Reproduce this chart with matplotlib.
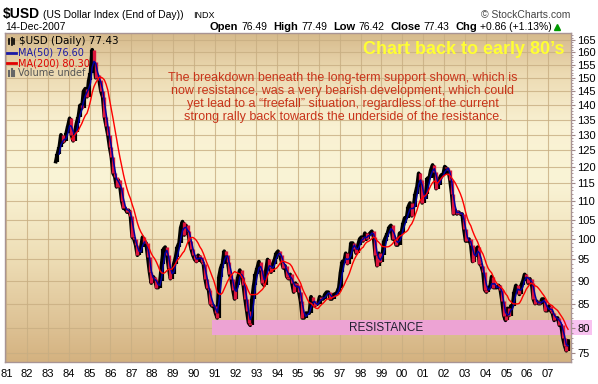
import numpy as np
import pandas as pd
import matplotlib
matplotlib.use('Agg')
import matplotlib.pyplot as plt
from matplotlib.colors import LinearSegmentedColormap
from matplotlib.patches import Rectangle
from matplotlib.lines import Line2D
from matplotlib.ticker import FixedLocator, FixedFormatter, NullFormatter

plt.rcParams['font.family'] = ['Liberation Sans', 'DejaVu Sans']

# monthly closes of $USD, May 1983 .. Dec 2007
start_year, start_month = 1983, 5
c1983 = [121.5, 124.0, 126.0, 130.0, 127.5, 128.0, 130.5, 133.0]
c1984 = [135.5, 130.0, 128.0, 131.0, 134.0, 136.0, 140.0, 139.0, 145.0, 146.0, 143.0, 149.0]
c1985 = [152.0, 161.0, 156.0, 150.0, 151.0, 149.0, 145.0, 143.0, 136.0, 133.0, 130.0, 126.0]
c1986 = [123.0, 118.0, 117.0, 114.0, 116.0, 114.0, 110.0, 108.0, 108.0, 107.0, 107.5, 106.0]
c1987 = [100.5, 100.0, 98.5, 96.0, 96.5, 98.0, 100.5, 99.0, 99.0, 95.5, 92.0, 89.5]
c1988 = [91.0, 90.5, 88.5, 88.5, 90.0, 94.0, 97.5, 98.0, 96.0, 93.0, 90.5, 91.5]
c1989 = [94.0, 95.5, 98.0, 99.0, 103.0, 104.5, 101.0, 103.5, 102.0, 99.5, 97.5, 96.0]
c1990 = [95.0, 94.5, 96.0, 95.5, 94.5, 94.0, 90.5, 88.5, 88.0, 85.0, 84.5, 84.5]
c1991 = [83.0, 82.0, 91.0, 93.0, 94.0, 97.0, 96.0, 94.5, 91.5, 90.5, 88.0, 86.0]
c1992 = [89.0, 91.0, 92.5, 91.0, 89.0, 86.0, 83.5, 81.0, 80.5, 86.0, 89.0, 91.5]
c1993 = [93.0, 94.5, 92.5, 89.5, 89.0, 92.5, 95.0, 93.0, 92.0, 94.0, 95.0, 96.5]
c1994 = [97.0, 96.0, 94.5, 93.0, 93.5, 91.0, 90.5, 91.5, 89.5, 87.5, 89.5, 89.0]
c1995 = [87.5, 85.5, 82.0, 82.0, 83.0, 83.0, 83.0, 86.5, 85.5, 84.5, 85.0, 85.0]
c1996 = [86.5, 86.0, 86.0, 87.0, 87.5, 87.5, 86.0, 86.0, 87.0, 87.0, 87.5, 88.5]
c1997 = [92.0, 94.5, 94.5, 96.5, 94.0, 95.0, 99.0, 99.0, 97.5, 96.5, 98.5, 100.0]
c1998 = [100.5, 99.5, 101.5, 100.0, 101.0, 101.5, 102.0, 100.5, 96.0, 93.5, 96.5, 94.5]
c1999 = [96.0, 99.5, 100.5, 101.5, 103.0, 103.5, 100.0, 100.5, 98.5, 98.5, 101.5, 101.5]
c2000 = [104.0, 105.5, 105.5, 108.5, 109.5, 106.0, 108.5, 112.0, 114.0, 118.0, 116.0, 109.5]
c2001 = [110.5, 112.0, 116.5, 116.5, 119.0, 120.5, 118.5, 113.5, 114.5, 116.5, 117.5, 117.5]
c2002 = [120.0, 119.5, 119.0, 116.0, 112.0, 106.5, 107.5, 106.5, 107.0, 106.5, 106.5, 102.5]
c2003 = [99.5, 99.5, 100.0, 98.5, 94.5, 95.5, 97.5, 98.0, 94.0, 93.5, 92.0, 88.0]
c2004 = [87.5, 88.5, 88.5, 91.0, 88.5, 88.5, 88.5, 89.0, 88.0, 85.5, 82.5, 81.5]
c2005 = [84.0, 82.5, 84.5, 84.5, 87.5, 89.0, 88.0, 87.0, 89.0, 90.0, 91.5, 91.0]
c2006 = [89.5, 90.5, 89.5, 86.0, 85.0, 85.5, 85.0, 85.0, 86.0, 86.0, 83.5, 83.5]
c2007 = [84.5, 83.5, 83.0, 81.5, 82.0, 82.0, 80.5, 80.5, 78.0, 76.5, 75.5, 77.4]

closes = (c1983 + c1984 + c1985 + c1986 + c1987 + c1988 + c1989 + c1990 + c1991
          + c1992 + c1993 + c1994 + c1995 + c1996 + c1997 + c1998 + c1999 + c2000
          + c2001 + c2002 + c2003 + c2004 + c2005 + c2006 + c2007)

years = list(range(1981, 2008))
year_labels = [f"{y % 100:02d}" for y in years]
y_ticks = list(range(75, 170, 5))

res_lo, res_hi = 78.5, 81.5
res_start = 1990.88

note = ("The breakdown beneath the long-term support shown, which is\n"
        "now resistance, was a very bearish development, which could\n"
        "yet lead to a \u201cfreefall\u201d situation, regardless of the current\n"
        "strong rally back towards the underside of the resistance.")

W, H = 598, 384
fig = plt.figure(figsize=(W / 100, H / 100), dpi=100)
fig.patch.set_facecolor('white')


def px(x, y):
    return x / W, 1 - y / H


pos = [5 / W, (H - 362) / H, (571 - 5) / W, (362 - 33) / H]

# background gradient
bg = fig.add_axes(pos, zorder=0)
bg_cmap = LinearSegmentedColormap.from_list('bg', [
    (0.0, (212/255, 178/255, 128/255)),
    (0.12, (222/255, 195/255, 150/255)),
    (0.32, (238/255, 222/255, 182/255)),
    (0.55, (250/255, 244/255, 214/255)),
    (0.72, (249/255, 241/255, 210/255)),
    (0.88, (236/255, 218/255, 178/255)),
    (1.0, (214/255, 186/255, 140/255)),
])
bg.imshow(np.linspace(0, 1, 256).reshape(-1, 1), aspect='auto', cmap=bg_cmap,
          origin='lower', extent=[0, 1, 0, 1])
bg.set_axis_off()

ax = fig.add_axes(pos, zorder=1)
ax.set_facecolor('none')

s = pd.Series(closes, dtype=float)
t = start_year + (start_month - 1 + np.arange(len(s)) + 0.5) / 12
ma50 = s.rolling(3).mean()
ma200 = s.rolling(10).mean()

# resistance band
ax.add_patch(Rectangle((res_start, res_lo), 2010 - res_start, res_hi - res_lo,
                       facecolor='#EDA3D4', edgecolor='none', zorder=1))

ax.plot(t, s, color='black', lw=2.6, zorder=2)
prev = s.shift(1)
up = (s >= prev).values
lo = np.minimum(prev, s).values
hi = np.maximum(prev, s).values
ax.vlines(t[1:][up[1:]], lo[1:][up[1:]], hi[1:][up[1:]], colors='black', lw=3, zorder=3)
ax.vlines(t[1:][~up[1:]], lo[1:][~up[1:]], hi[1:][~up[1:]], colors='#DC143C', lw=2.4, zorder=3)
ax.plot(t, ma50, color='#0000A0', lw=1.1, zorder=4)
ax.plot(t, ma200, color='#FF0000', lw=1.0, zorder=5)

ax.set_yscale('log')
ax.set_xlim(1980.94, 2008.1)
ax.set_ylim(73.4, 167.9)

ax.xaxis.set_major_locator(FixedLocator(years))
ax.set_xticklabels(year_labels)
ax.yaxis.set_major_locator(FixedLocator(y_ticks))
ax.yaxis.set_major_formatter(FixedFormatter([str(v) for v in y_ticks]))
ax.yaxis.set_minor_locator(FixedLocator(list(range(74, 168))))
ax.yaxis.set_minor_formatter(NullFormatter())
ax.yaxis.tick_right()
ax.tick_params(axis='y', which='major', length=3, width=0.8, color='#A08888',
               pad=1.5, labelsize=8)
ax.tick_params(axis='y', which='minor', length=1.5, width=0.6, color='#A08888')
ax.tick_params(axis='x', length=0, pad=5, labelsize=8)
ax.grid(True, which='major', axis='both', color='#C8AE82', lw=0.8, alpha=0.8, zorder=0)
ax.set_axisbelow(True)
for sp in ax.spines.values():
    sp.set_color('#A89494')
    sp.set_linewidth(1.0)

# band continues into the label area
fig.patches.append(Rectangle(px(572, 335), 20 / W, 15 / H, transform=fig.transFigure,
                             facecolor='#F8C2F0', edgecolor='none', zorder=0))

ax.text(0.5 * (2008.1 + res_start) - 0.25, 80.0, 'RESISTANCE', ha='center', va='center',
        fontsize=8.5, color='#202030', zorder=6)

fig.text(*px(343, 97.5), note, ha='center', va='center', fontsize=9,
         color='#C8341A', linespacing=1.1, zorder=5)
fig.text(*px(464, 49), 'Chart back to early 80\u2019s', ha='center', va='center',
         fontsize=13, fontweight='bold', color='#FFFF33', zorder=5)

# header
fig.text(*px(3, 18), '$USD', ha='left', va='baseline', fontsize=10, fontweight='bold')
fig.text(*px(43, 18), '(US Dollar Index (End of Day))', ha='left', va='baseline', fontsize=7.5)
fig.text(*px(193, 18), 'INDX', ha='left', va='baseline', fontsize=6.5)
fig.text(*px(570, 18), '\u00a9 StockCharts.com', ha='right', va='baseline',
         fontsize=7.5, color='#444444')
fig.text(*px(5, 29.5), '14-Dec-2007', ha='left', va='baseline', fontsize=7.5)

pieces = [('Open', 'bold'), ('76.49', 'normal'), ('High', 'bold'), ('77.49', 'normal'),
          ('Low', 'bold'), ('76.42', 'normal'), ('Close', 'bold'), ('77.43', 'normal'),
          ('Chg', 'bold'), ('+0.86 (+1.13%)', 'normal')]
renderer = fig.canvas.get_renderer()
xr = 552
for txt, wt in reversed(pieces):
    tt = fig.text(xr / W, 1 - 29.5 / H, txt, ha='right', va='baseline',
                  fontsize=8 if wt == 'bold' else 7.5, fontweight=wt)
    bb = tt.get_window_extent(renderer)
    xr = bb.x0 - (6 if wt == 'bold' else 3)
fig.lines.append(Line2D([557 / W], [1 - 26.5 / H], marker='^', color='#009900',
                        markersize=4, transform=fig.transFigure))

# legend block
fig.text(*px(19, 41.5), '$USD (Daily) 77.43', ha='left', va='center', fontsize=7.5,
         family='DejaVu Sans', zorder=6)
fig.text(*px(18, 52.5), 'MA(50) 76.60', ha='left', va='center', fontsize=7,
         family='DejaVu Sans', color='#1A1AA6', zorder=6)
fig.text(*px(18, 63), 'MA(200) 80.30', ha='left', va='center', fontsize=7,
         family='DejaVu Sans', color='#E00000', zorder=6)
fig.text(*px(18, 73), 'Volume undef', ha='left', va='center', fontsize=7,
         family='DejaVu Sans', color='#555555', zorder=6)
for (yy, col) in [(52.5, '#1A1AA6'), (63, '#E00000')]:
    fig.lines.append(Line2D([7 / W, 16 / W], [1 - yy / H] * 2, color=col, lw=2,
                            transform=fig.transFigure))
for xx, h in [(9, 5), (11.5, 7), (14, 5)]:
    fig.lines.append(Line2D([xx / W] * 2, [1 - (41.5 + h / 2) / H, 1 - (41.5 - h / 2) / H],
                            color='black', lw=1.2, transform=fig.transFigure))
    fig.lines.append(Line2D([xx / W] * 2, [1 - (75.5) / H, 1 - (75.5 - h) / H],
                            color='#666666', lw=1.5, transform=fig.transFigure))

fig.savefig('out.png', dpi=100)
